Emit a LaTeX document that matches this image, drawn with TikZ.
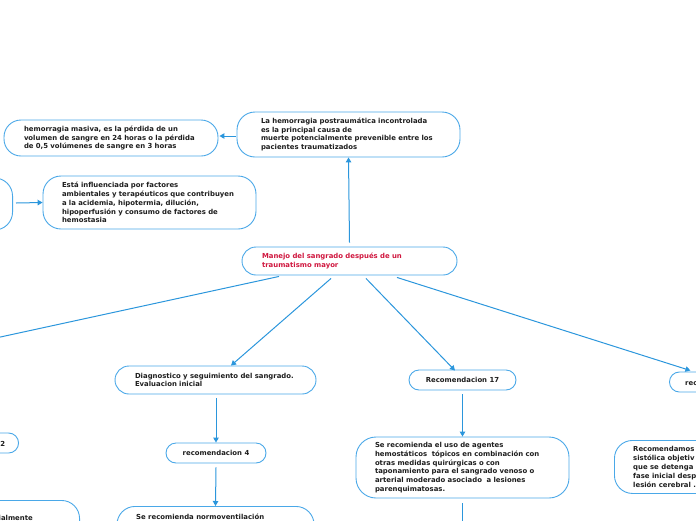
\documentclass[tikz,border=0pt]{standalone}
\usepackage{fontspec}
\setmainfont{DejaVu Sans}
\usetikzlibrary{arrows.meta,calc}
\definecolor{boxblue}{HTML}{4AA8E8}
\definecolor{linkblue}{HTML}{2B96DC}
\definecolor{titlered}{HTML}{D0173F}
\definecolor{txt}{HTML}{1E1E1E}
\newcommand{\mmfont}{\fontsize{6.9}{8.8}\selectfont\bfseries}
\begin{document}
\begin{tikzpicture}[x=1pt,y=-1pt,
  box/.style={draw=boxblue, line width=0.9pt, fill=white, inner sep=0pt, font=\mmfont, text=txt, align=left},
  conn/.style={draw=linkblue, line width=1pt, -{Triangle[length=5pt,width=5.5pt]}},
  plain/.style={draw=linkblue, line width=1pt},
  lbl/.style={font=\mmfont, text=txt, inner sep=0pt, align=left}]
\useasboundingbox (0,0) rectangle (696,520);
\clip (0,0) rectangle (696,520);

\node[box, minimum width=215pt, minimum height=28pt, text width=175pt, rounded corners=14pt, text=titlered] (main) at (349.5,261)
  {Manejo del sangrado después de un\\traumatismo mayor};
\node[box, minimum width=223pt, minimum height=45pt, text width=175pt, rounded corners=18pt] (top) at (348.5,134.5)
  {La hemorragia postraumática incontrolada\\es la principal causa de\\muerte potencialmente prevenible entre los\\pacientes traumatizados};
\node[box, minimum width=214pt, minimum height=36pt, text width=174pt, rounded corners=17pt] (hm) at (111,138)
  {hemorragia masiva, es la pérdida de un\\volumen de sangre en 24 horas o la pérdida\\de 0,5 volúmenes de sangre en 3 horas};
\node[box, minimum width=213pt, minimum height=53pt, text width=175pt, rounded corners=18pt] (est) at (149.5,202.5)
  {Está influenciada por factores\\ambientales y terapéuticos que contribuyen\\a la acidemia, hipotermia, dilución,\\hipoperfusión y consumo de factores de\\hemostasia};
\node[box, minimum width=100pt, minimum height=52pt, rounded corners=18pt, anchor=east] (part) at (13,204) {};

\node[box, minimum width=201pt, minimum height=28pt, text width=161pt, rounded corners=14pt] (diag) at (215.5,380)
  {Diagnostico y seguimiento del sangrado.\\Evaluacion inicial};
\node[box, minimum width=100pt, minimum height=20pt, rounded corners=10pt, align=center] (rec4) at (216,453) {recomendacion 4};
\node[box, minimum width=197pt, minimum height=50pt, rounded corners=18pt, anchor=north] (normo) at (215.5,506) {};
\node[lbl, anchor=base west] (normot) at (136,519) {Se recomienda normoventilación};

\node[box, minimum width=107pt, minimum height=20pt, rounded corners=10pt, align=center] (rec17) at (462.5,380) {Recomendacion 17};
\node[box, minimum width=213pt, minimum height=61pt, text width=175pt, rounded corners=20pt] (sere) at (462.5,467.5)
  {Se recomienda el uso de agentes\\hemostáticos\ \ tópicos en combinación con\\otras medidas quirúrgicas o con\\taponamiento para el sangrado venoso o\\arterial moderado asociado\ \ a lesiones\\parenquimatosas.};

\node[box, minimum width=100pt, minimum height=20pt, rounded corners=10pt, anchor=west] (rrec) at (669,382) {};
\node[lbl, anchor=base west] (rrect) at (685,385) {rec};
\node[box, minimum width=150pt, minimum height=53pt, rounded corners=18pt, anchor=north west] (recom) at (614,440) {};
\node[lbl, anchor=north west] (recomt) at (633,446.5)
  {Recomendamos\\sistólica objetiv\\que se detenga\\fase inicial desp\\lesión cerebral .};

\node[box, minimum width=100pt, minimum height=20pt, rounded corners=10pt, anchor=east] (left2) at (19,443) {};
\node[lbl, anchor=base east] (left2t) at (5.5,446) {2};
\node[box, minimum width=150pt, minimum height=50pt, rounded corners=18pt, anchor=north east] (lenc) at (80,500) {};
\node[lbl, anchor=base east] (lenct) at (33,520) {encialmente};

\coordinate (offl) at (-30,343.6);
\coordinate (offb) at (462.5,540);

\draw[conn] ($(main.north)+(0,-4)$) -- (top.south);
\draw[conn] ($(top.west)+(-1,1.5)$) -- ($(hm.east)+(1,-2)$);
\draw[conn] ($(part.east)+(3,-1)$) -- (est.west);
\draw[plain] ($(main.south)+(-70.5,1)$) -- (offl);
\draw[conn] ($(main.south)+(-18.5,3)$) -- ($(diag.north)+(15.5,0)$);
\draw[conn] ($(main.south)+(16.5,3)$) -- ($(rec17.north)+(-7.5,1)$);
\draw[conn] ($(main.south)+(47.5,2)$) -- ($(rrec.north)+(-29,-1)$);
\draw[conn] ($(diag.south)+(0.5,4)$) -- (rec4.north);
\draw[conn] ($(rec4.south)+(0,4)$) -- (normo.north);
\draw[conn] ($(rec17.south)+(0,4)$) -- (sere.north);
\draw[plain] ($(sere.south)+(0,5)$) -- (offb);
\end{tikzpicture}
\end{document}
